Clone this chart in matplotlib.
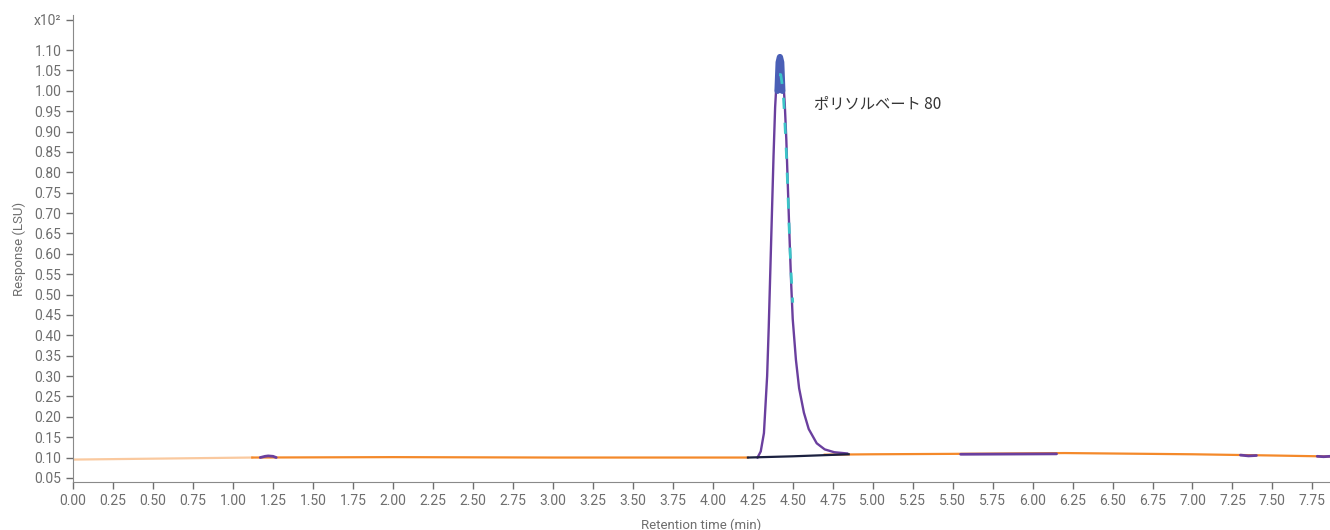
import matplotlib.pyplot as plt
import numpy as np

plt.rcParams['font.family'] = ['Roboto', 'Noto Sans CJK JP', 'DejaVu Sans']

# baseline (orange)
base_fade_t = [0.0, 1.12]
base_fade_y = [0.095, 0.100]
base_t = [1.12, 2.0, 3.0, 4.0, 4.22]
base_y = [0.100, 0.101, 0.100, 0.100, 0.100]
base2_t = [4.70, 5.0, 5.5, 6.2, 7.0, 7.5, 7.95]
base2_y = [0.107, 0.108, 0.109, 0.111, 0.108, 0.105, 0.102]

# integration baseline under peak (navy)
navy_t = [4.22, 4.50, 4.85]
navy_y = [0.100, 0.103, 0.108]

# main chromatogram peak (purple)
peak_t = [4.28, 4.30, 4.32, 4.34, 4.35, 4.36, 4.37, 4.38, 4.39, 4.40, 4.41, 4.42,
          4.43, 4.44, 4.45, 4.46, 4.47, 4.48, 4.49, 4.50, 4.52, 4.54, 4.57, 4.60,
          4.65, 4.70, 4.76, 4.84]
peak_y = [0.100, 0.115, 0.16, 0.30, 0.42, 0.56, 0.70, 0.84, 0.96, 1.03, 1.060, 1.065,
          1.055, 1.03, 0.97, 0.88, 0.76, 0.64, 0.53, 0.44, 0.34, 0.27, 0.21, 0.17,
          0.135, 0.12, 0.113, 0.110]

# apex (blue) and fitted trace (cyan dashed)
apex_t = [4.405, 4.412, 4.42, 4.428, 4.435]
apex_y = [1.00, 1.07, 1.083, 1.07, 1.00]
fit_t = [4.415, 4.425, 4.44, 4.45, 4.46, 4.47, 4.48, 4.49, 4.50]
fit_y = [1.04, 1.04, 1.00, 0.93, 0.85, 0.75, 0.64, 0.55, 0.48]

# small purple features on baseline
bump_t = [1.17, 1.20, 1.22, 1.25, 1.27]
bump_y = [0.100, 0.103, 0.104, 0.103, 0.100]
flat_t = [5.55, 6.15]
flat_y = [0.108, 0.109]
dip1_t = [7.30, 7.35, 7.40]
dip1_y = [0.106, 0.104, 0.105]
dip2_t = [7.78, 7.82, 7.86]
dip2_y = [0.103, 0.102, 0.103]

peak_label = "ポリソルベート 80"
label_pos = (4.63, 0.967)

yticks = [round(0.05 * i, 2) for i in range(1, 23)]
xticks = [0.25 * i for i in range(32)]

ORANGE = "#f4892a"
PURPLE = "#6a3f9e"
NAVY = "#1b2140"
BLUE = "#4a5fb6"
CYAN = "#3cc4c8"
GRAY = "#6e6e6e"

fig = plt.figure(figsize=(13.3, 5.3), dpi=100)
ax = fig.add_axes([0.055, 0.0906, 0.945, 0.881])

ax.plot(base_fade_t, base_fade_y, color=ORANGE, lw=1.6, alpha=0.45)
ax.plot(base_t, base_y, color=ORANGE, lw=1.6)
ax.plot(base2_t, base2_y, color=ORANGE, lw=1.6)
ax.plot(navy_t, navy_y, color=NAVY, lw=1.6, zorder=4)

ax.plot(peak_t, peak_y, color=PURPLE, lw=1.7, zorder=3)
ax.plot(apex_t, apex_y, color=BLUE, lw=4.5, solid_capstyle="round", zorder=3)
ax.plot(fit_t, fit_y, color=CYAN, lw=2.0, ls=(0, (4, 5)), zorder=5)

for t, y in [(bump_t, bump_y), (flat_t, flat_y), (dip1_t, dip1_y), (dip2_t, dip2_y)]:
    ax.plot(t, y, color=PURPLE, lw=2.0, solid_capstyle="round", zorder=3)

ax.text(label_pos[0], label_pos[1], peak_label, fontsize=11, color="#333333",
        va="center", ha="left", family=["Noto Sans CJK JP", "DejaVu Sans"])

ax.set_xlim(0, 7.86)
ax.set_ylim(0.040, 1.186)
ax.set_xticks(xticks)
ax.set_xticklabels([f"{v:.2f}" for v in xticks])
ax.set_yticks(yticks + [1.174])
ax.set_yticklabels([f"{v:.2f}" for v in yticks] + ["x10²"])
ax.get_yticklabels()[-1].set_fontsize(8.5)

ax.tick_params(colors=GRAY, labelcolor=GRAY, labelsize=10, length=5, width=1)
for s in ["top", "right"]:
    ax.spines[s].set_visible(False)
for s in ["left", "bottom"]:
    ax.spines[s].set_color("#8a8a8a")

ax.set_xlabel("Retention time (min)", color=GRAY, fontsize=9.5, labelpad=8)
ax.set_ylabel("Response (LSU)", color=GRAY, fontsize=9.5, labelpad=6)

fig.savefig("out.png", dpi=100)
